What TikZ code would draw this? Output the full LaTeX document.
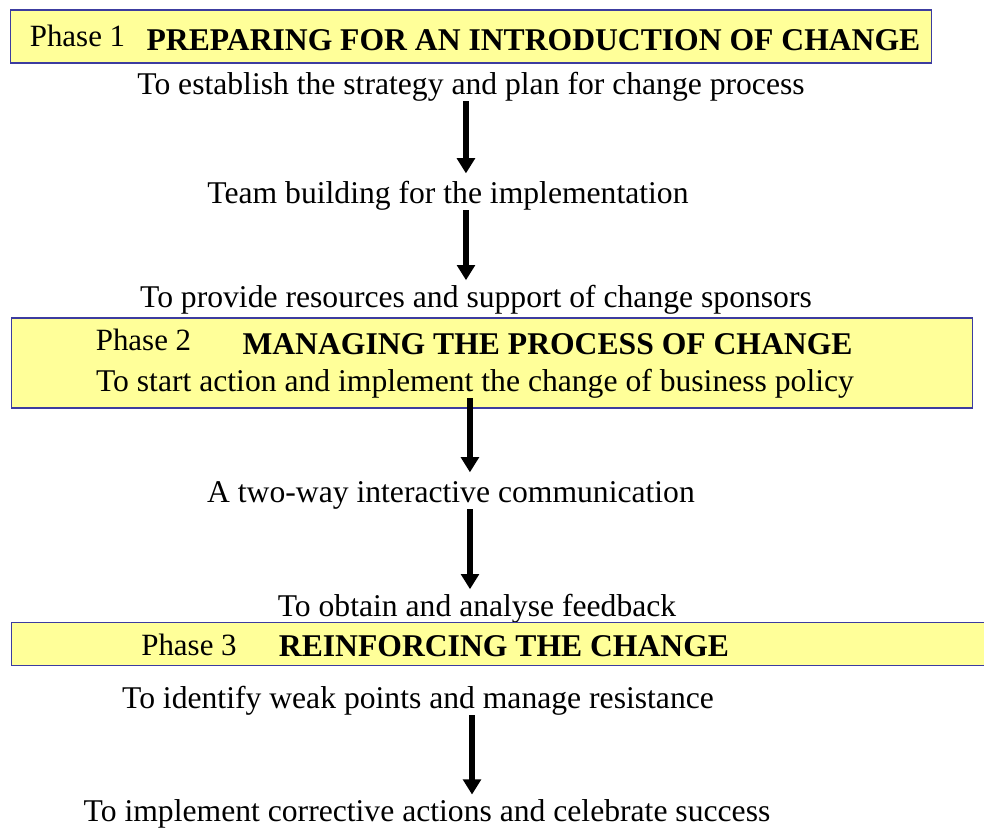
\documentclass[tikz,border=0pt]{standalone}
\usepackage{fontspec}
\setmainfont{Liberation Serif}
\usetikzlibrary{positioning, arrows.meta}
\definecolor{phaseyellow}{RGB}{255,255,153}
\definecolor{phaseborder}{RGB}{60,60,160}

\begin{document}
\begin{tikzpicture}[
  % one unit = one pixel of the sheet, y runs downward
  x=0.025cm, y=-0.025cm,
  % phase box style
  phasebox/.style={
    draw=phaseborder, fill=phaseyellow, line width=0.8pt,
    inner sep=0pt
  },
  % step text styles
  steptext/.style={
    anchor=base, inner sep=0pt, font=\fontsize{22.5}{27}\selectfont
  },
  phaselabel/.style={
    anchor=base, inner sep=0pt, font=\fontsize{22}{26}\selectfont
  },
  phasetitle/.style={
    anchor=base, inner sep=0pt, font=\fontsize{22.5}{27}\selectfont\bfseries
  },
  % thick down arrow
  flow/.style={
    -{Triangle[width=0.44cm, length=0.38cm]}, line width=4pt,
    shorten >=3pt
  }
]
\useasboundingbox (0,0) rectangle (984,828);

% ─── Phase 1 ────────────────────────────────────────────────────────────────
\node[phasebox, minimum width=23cm, minimum height=1.325cm] (box1)
  at (471,36.5) {};
\node[phaselabel] (ph1) at (77.5,47) {Phase 1};
\node[phasetitle] (title1) at (533.5,51) {PREPARING FOR AN INTRODUCTION OF CHANGE};

\node[steptext] (strategy) at (471,94) {To establish the strategy and plan for change process};
\node[steptext] (team) at (448,203) {Team building for the implementation};
\node[steptext] (resources) at (476,307) {To provide resources and support of change sponsors};

\draw[flow, shorten >=5pt] ([xshift=-3.6pt]strategy.south) -- ([xshift=-3.6pt]strategy.south |- team.north);
\draw[flow] ([xshift=12.8pt]team.south) -- ([xshift=12.8pt]team.south |- resources.north);

% ─── Phase 2 ────────────────────────────────────────────────────────────────
\node[phasebox, minimum width=24cm, minimum height=2.25cm] (box2)
  at (492,363) {};
\node[phaselabel] (ph2) at (143.5,350) {Phase 2};
\node[phasetitle] (title2) at (547.5,354) {MANAGING THE PROCESS OF CHANGE};
\node[steptext] (action) at (475,391) {To start action and implement the change of business policy};

\node[steptext] (talk) at (451,502) {A two-way interactive communication};
\node[steptext] (feedback) at (477,616) {To obtain and analyse feedback};

\draw[flow, shorten >=6pt] ([xshift=-3.6pt]action.south) -- ([xshift=-3.6pt]action.south |- talk.north);
\draw[flow] ([xshift=13.5pt]talk.south) -- ([xshift=13.5pt]talk.south |- feedback.north);

% ─── Phase 3 (runs off the right edge) ──────────────────────────────────────
\node[phasebox, draw=none, minimum width=24.3cm, minimum height=1.05cm] (box3)
  at (498,644) {};
\draw[phaseborder, line width=0.8pt]
  (box3.north east) -- (box3.north west) -- (box3.south west) -- (box3.south east);
\node[phaselabel] (ph3) at (189,655) {Phase 3};
\node[phasetitle] (title3) at (504,656) {REINFORCING THE CHANGE};

\node[steptext] (weak) at (418,708) {To identify weak points and manage resistance};
\node[steptext] (success) at (427,821) {To implement corrective actions and celebrate success};

\draw[flow] ([xshift=38.4pt]weak.south) -- ([xshift=38.4pt]weak.south |- success.north);

\end{tikzpicture}
\end{document}
